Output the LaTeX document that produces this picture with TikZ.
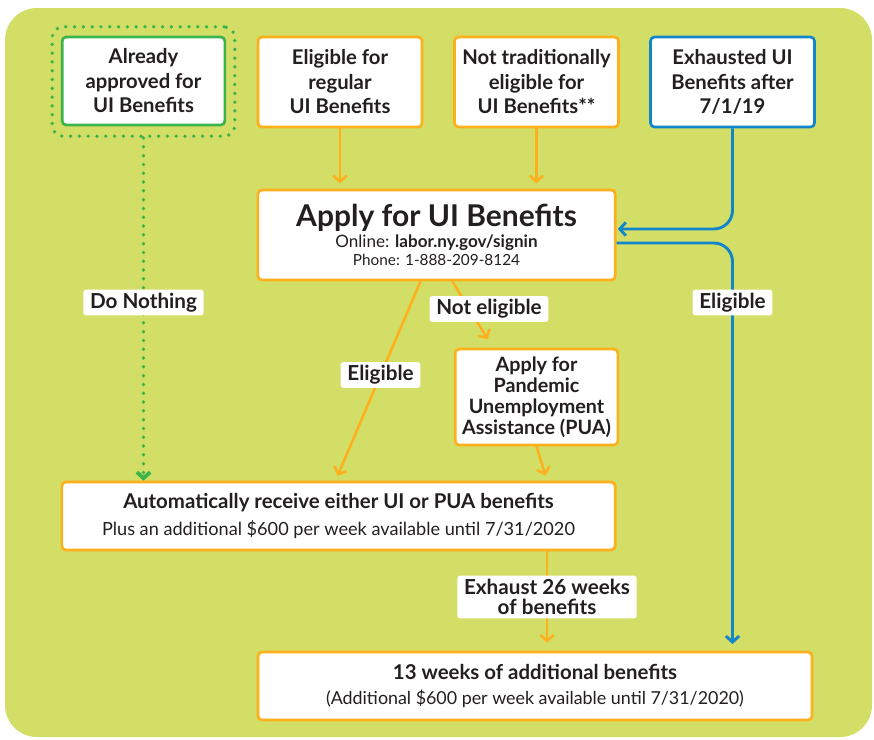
\documentclass[tikz,border=0pt]{standalone}
\usepackage{fontspec}
\setmainfont{Lato}
\usetikzlibrary{arrows.meta,calc}

\definecolor{lime}{RGB}{211,222,103}
\definecolor{amber}{RGB}{253,176,27}
\definecolor{skyline}{RGB}{18,134,200}
\definecolor{leaf}{RGB}{60,180,75}
\definecolor{ink}{RGB}{35,31,32}

\begin{document}
\begin{tikzpicture}[x=0.75pt, y=-0.75pt, >={Straight Barb[length=4.5pt,width=10pt]}, line width=1.9pt,
  box/.style={draw=amber, fill=white, line width=2pt, rounded corners=3pt, align=center, text=ink,
    inner sep=1pt, font=\bfseries\fontsize{15.2}{18.4}\selectfont},
  tag/.style={fill=white, rounded corners=2pt, text=ink, align=center, inner xsep=5pt, inner ysep=2.5pt,
    font=\bfseries\fontsize{15.5}{15.5}\selectfont},
  flow/.style={amber, ->, shorten >=4pt},
  dots/.style={draw=leaf, line width=2.8pt, line cap=round, dash pattern=on 0pt off 6.6pt}]

% background
\useasboundingbox (0,0) rectangle (874,739);
\fill[lime, rounded corners=24pt] (5,8) rectangle (872,737);

% top row
\node[dots, rounded corners=8pt, minimum width=137pt, minimum height=82pt] (frame) at (143.5,81.5) {};
\node[box, draw=leaf, minimum width=122pt, minimum height=66pt] (approved) at (143.5,81) {Already\\approved for\\UI Benefits};
\node[box, minimum width=123pt, minimum height=67.5pt] (regular) at (340,82) {Eligible for\\regular\\UI Benefits};
\node[box, minimum width=123pt, minimum height=67.5pt] (nottrad) at (536.5,82) {Not traditionally\\eligible for\\UI Benefits**};
\node[box, draw=skyline, minimum width=123pt, minimum height=67.5pt] (exhausted) at (732.5,82) {Exhausted UI\\Benefits after\\7/1/19};

% middle
\node[box, minimum width=268pt, minimum height=67.5pt, font=\mdseries] (apply) at (436.5,235)
  {{\bfseries\fontsize{22.5}{23}\selectfont Apply for UI Benefits}\\[2pt]
   {\fontsize{12.8}{14}\selectfont Online: \textbf{labor.ny.gov/signin}}\\[1.5pt]
   {\fontsize{11.5}{13}\selectfont Phone: 1-888-209-8124}};
\node[box, minimum width=122pt, minimum height=72pt, font=\bfseries\fontsize{14.8}{15.7}\selectfont] (pua) at (536.5,397)
  {Apply for\\Pandemic\\Unemployment\\Assistance (PUA)};

% bottom
\node[box, minimum width=415pt, minimum height=51pt, font=\mdseries] (auto) at (338.5,516)
  {{\bfseries\fontsize{15.3}{16}\selectfont Automatically receive either UI or PUA benefits}\\[5pt]
   {\fontsize{13.6}{16}\selectfont Plus an additional \$600 per week available until 7/31/2020}};
\node[box, minimum width=415.5pt, minimum height=51pt, font=\mdseries] (extra) at (535,686)
  {{\bfseries\fontsize{15.3}{16}\selectfont 13 weeks of additional benefits}\\[6.5pt]
   {\fontsize{13.4}{16}\selectfont (Additional \$600 per week available until 7/31/2020)}};

\coordinate (col) at (547,0);

% connectors
\draw[dots, ->] (frame.south) -- (auto.north -| frame.south)
  node[tag, pos=0.48, solid] (nothing) {Do Nothing};
\draw[flow] (regular.south) -- (apply.north -| regular.south);
\draw[flow] (nottrad.south) -- (apply.north -| nottrad.south);
\draw[skyline, ->, line width=2.2pt, rounded corners=14pt, shorten >=1pt]
  (exhausted.south) |- ($(apply.east)+(0,-6)$);
\draw[skyline, ->, line width=2.2pt, rounded corners=14pt, shorten >=5pt]
  ($(apply.east)+(0,8)$) -| (extra.north -| exhausted.south)
  node[tag, pos=0.573] (eligright) {Eligible};
\draw[flow] ($(apply.south)+(-16,0)$) -- ($(auto.north)+(-3,0)$)
  node[tag, pos=0.47] (eligleft) {Eligible};
\draw[flow] ($(apply.south)+(16,0)$) -- ($(pua.north)+(-46,-4)$);
\node[tag] (noteligible) at (489,309) {Not eligible};
\draw[flow] (pua.south) -- (auto.north -| col);
\draw[flow, shorten >=6pt] (auto.south -| col) -- (extra.north -| col)
  node[tag, pos=0.46] (exhaust) {Exhaust 26 weeks\\of benefits};

\end{tikzpicture}
\end{document}
